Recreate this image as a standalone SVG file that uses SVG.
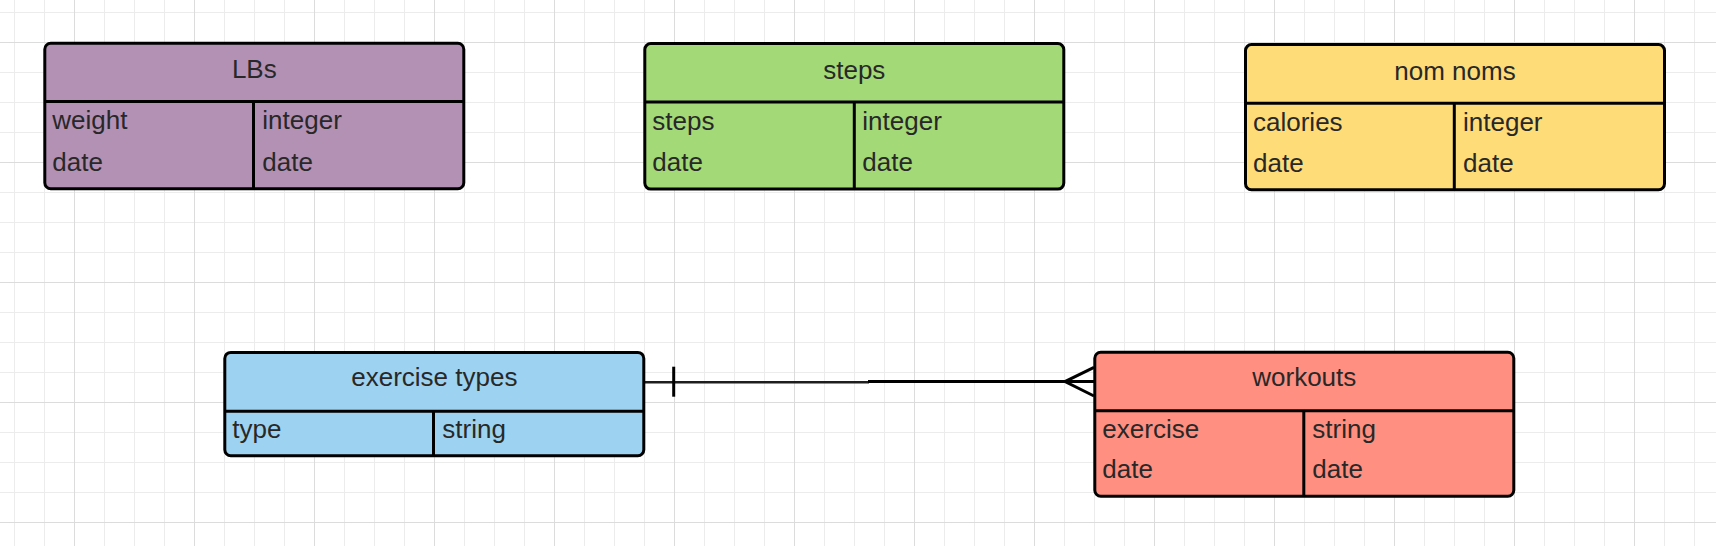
<svg xmlns="http://www.w3.org/2000/svg" width="1716" height="546" viewBox="0 0 1716 546">
  <defs>
    <pattern id="minor" patternUnits="userSpaceOnUse" x="14" y="12" width="30" height="30">
      <path d="M0.5 0V30M0 0.5H30" stroke="#ececec" stroke-width="1" fill="none"/>
    </pattern>
    <pattern id="major" patternUnits="userSpaceOnUse" x="74" y="42" width="120" height="120">
      <path d="M0.5 0V120M0 0.5H120" stroke="#dcdcdc" stroke-width="1" fill="none"/>
    </pattern>
  </defs>
  <style>
    .box { stroke: #000; stroke-width: 3; }
    .div { stroke: #000; stroke-width: 3; fill: none; }
    .hd { font-family: "Liberation Sans", Arial, sans-serif; font-size: 26px; fill: #282828; text-anchor: middle; }
    .tx { font-family: "Liberation Sans", Arial, sans-serif; font-size: 26px; fill: #282828; }
    .conn { stroke: #000; stroke-width: 3; fill: none; }
  </style>
  <rect width="1716" height="546" fill="#ffffff"/>
  <rect width="1716" height="546" fill="url(#minor)"/>
  <rect width="1716" height="546" fill="url(#major)"/>

  <g id="connectors">
    <line class="conn" x1="644" y1="382.2" x2="869" y2="382.2" style="stroke:#1e1e1e;stroke-width:2.6"/>
    <line class="conn" x1="868" y1="381.6" x2="1094" y2="381.6"/>
    <line class="conn" x1="673.7" y1="366.7" x2="673.7" y2="396.7"/>
    <path class="conn" d="M1094 367.3L1065 381.6L1094 396"/>
  </g>

  <g id="node-lbs" transform="translate(44.8,43.2)">
    <rect class="box" x="0" y="0" width="419" height="145.5" rx="6" fill="#b391b5"/>
    <path class="div" d="M0 58.3H419M208.7 58.3V145.5"/>
    <text class="hd" x="209.5" y="35">LBs</text>
    <text class="tx" x="7.5" y="86">weight</text>
    <text class="tx" x="7.5" y="127.5">date</text>
    <text class="tx" x="217.5" y="86">integer</text>
    <text class="tx" x="217.5" y="127.5">date</text>
  </g>

  <g id="node-steps" transform="translate(644.8,43.6)">
    <rect class="box" x="0" y="0" width="419" height="145.5" rx="6" fill="#a3d977"/>
    <path class="div" d="M0 58.3H419M209.5 58.3V145.5"/>
    <text class="hd" x="209.5" y="35">steps</text>
    <text class="tx" x="7.5" y="86">steps</text>
    <text class="tx" x="7.5" y="127.5">date</text>
    <text class="tx" x="217.5" y="86">integer</text>
    <text class="tx" x="217.5" y="127.5">date</text>
  </g>

  <g id="node-nomnoms" transform="translate(1245.5,44.6)">
    <rect class="box" x="0" y="0" width="419" height="145.2" rx="6" fill="#fedc78"/>
    <path class="div" d="M0 58.6H419M208.8 58.6V145.2"/>
    <text class="hd" x="209.5" y="35">nom noms</text>
    <text class="tx" x="7.5" y="86">calories</text>
    <text class="tx" x="7.5" y="127.5">date</text>
    <text class="tx" x="217.5" y="86">integer</text>
    <text class="tx" x="217.5" y="127.5">date</text>
  </g>

  <g id="node-exercise-types" transform="translate(224.8,352.4)">
    <rect class="box" x="0" y="0" width="419" height="103.4" rx="6" fill="#9dd3f1"/>
    <path class="div" d="M0 58.8H419M208.7 58.8V103.4"/>
    <text class="hd" x="209.5" y="33.5">exercise types</text>
    <text class="tx" x="7.5" y="85.5">type</text>
    <text class="tx" x="217.5" y="85.5">string</text>
  </g>

  <g id="node-workouts" transform="translate(1094.8,352.2)">
    <rect class="box" x="0" y="0" width="419" height="144" rx="6" fill="#ff8f80"/>
    <path class="div" d="M0 58.5H419M209 58.5V144"/>
    <text class="hd" x="209.5" y="33.5">workouts</text>
    <text class="tx" x="7.5" y="85.5">exercise</text>
    <text class="tx" x="7.5" y="126">date</text>
    <text class="tx" x="217.5" y="85.5">string</text>
    <text class="tx" x="217.5" y="126">date</text>
  </g>
</svg>
